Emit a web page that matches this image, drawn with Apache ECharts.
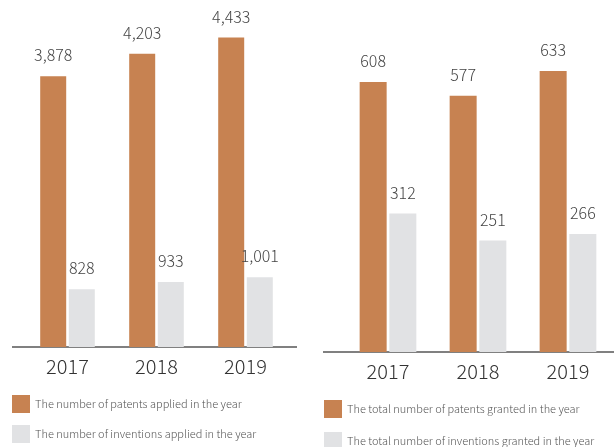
<!DOCTYPE html>
<html>
<head>
<meta charset="utf-8">
<script src="https://cdn.jsdelivr.net/npm/echarts@6/dist/echarts.min.js"></script>
<style>
  html, body { margin: 0; padding: 0; background: #fff; }
  #chart { width: 614px; height: 447px; }
</style>
</head>
<body>
<div id="chart"></div>
<script>
// ------------------------------------------------------------------
// data
// ------------------------------------------------------------------
const years = ['2017', '2018', '2019']

const appliedPatents = [3878, 4203, 4433]
const appliedInventions = [828, 933, 1001]

const grantedPatents = [608, 577, 633]
const grantedInventions = [312, 251, 266]

const appliedNames = ['The number of patents applied in the year', 'The number of inventions applied in the year']
const grantedNames = ['The total number of patents granted in the year', 'The total number of inventions granted in the year']

// ------------------------------------------------------------------
// style
// ------------------------------------------------------------------
const ORANGE = '#c78251'
const GREY = '#e1e2e4'
const AXIS = '#808080'
const FONT = '"Noto Sans CJK SC", "Noto Sans", sans-serif'

const leftGrid = { left: 23, width: 267, top: 12, bottom: 100 }
const rightGrid = { left: 343, width: 270, top: 19, bottom: 95 }
const H = 447

const fmt = (p) => p.value.toLocaleString('en-US')

function barSeries(name, data, color, axisIndex, width) {
  return {
    name,
    type: 'bar',
    data,
    xAxisIndex: axisIndex,
    yAxisIndex: axisIndex,
    barWidth: width,
    barGap: '10%',
    itemStyle: { color },
    label: {
      show: true,
      position: 'top',
      distance: 13,
      formatter: fmt,
      fontFamily: FONT,
      fontWeight: 300,
      fontSize: 16,
      color: '#444',
    },
  }
}

function xAxis(gridIndex) {
  return {
    type: 'category',
    gridIndex,
    data: years,
    axisLine: { show: false },
    axisTick: { show: false },
    axisLabel: { fontFamily: FONT, fontWeight: 300, fontSize: 20, color: '#333', margin: 9 },
  }
}

function yAxis(gridIndex, max) {
  return {
    type: 'value',
    gridIndex,
    min: 0,
    max,
    show: false,
    splitLine: { show: false },
  }
}

// one legend per item so each sits exactly under its chart
function legend(name, left, top) {
  return {
    data: [name],
    left,
    top,
    padding: 0,
    itemWidth: 18,
    itemHeight: 18,
    icon: 'rect',
    textStyle: { fontFamily: FONT, fontWeight: 300, fontSize: 11, color: '#555' },
  }
}

const option = {
  animation: false,
  grid: [leftGrid, rightGrid],
  xAxis: [xAxis(0), xAxis(1)],
  yAxis: [yAxis(0, 4800), yAxis(1, 750)],
  legend: [
    legend(appliedNames[0], 12, 395),
    legend(appliedNames[1], 12, 425),
    legend(grantedNames[0], 324, 400),
    legend(grantedNames[1], 324, 432),
  ],
  series: [
    barSeries(appliedNames[0], appliedPatents, ORANGE, 0, 26),
    barSeries(appliedNames[1], appliedInventions, GREY, 0, 26),
    barSeries(grantedNames[0], grantedPatents, ORANGE, 1, 27),
    barSeries(grantedNames[1], grantedInventions, GREY, 1, 27),
  ],
  // baselines run a bit wider than the plot area
  graphic: [
    {
      type: 'line',
      shape: { x1: 12, y1: H - leftGrid.bottom, x2: 297, y2: H - leftGrid.bottom },
      style: { stroke: AXIS, lineWidth: 2 },
    },
    {
      type: 'line',
      shape: { x1: 323, y1: H - rightGrid.bottom, x2: 614, y2: H - rightGrid.bottom },
      style: { stroke: AXIS, lineWidth: 2 },
    },
  ],
}

const chart = echarts.init(document.getElementById('chart'))
chart.setOption(option)
</script>
</body>
</html>
